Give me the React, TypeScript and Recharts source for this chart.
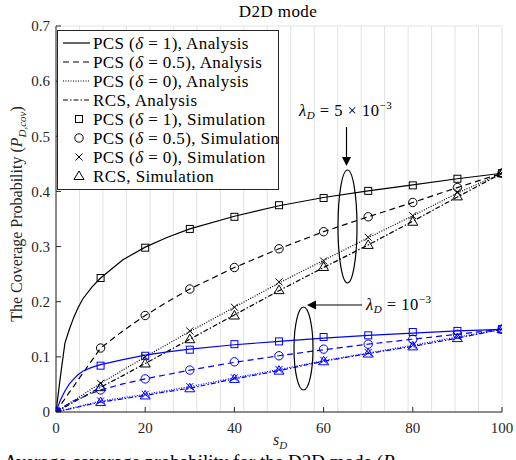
import React from "react";
import { ComposedChart, Line, Scatter, XAxis, YAxis, CartesianGrid } from "recharts";

// analysis curves (fine x grid)
const xAna = [0, 1, 2, 3, 4, 5, 6, 8, 10, 15, 20, 25, 30, 40, 50, 60, 70, 80, 90, 100];
// lambda_D = 5e-3 (black)
const anaPcs1 = [0, 0.065, 0.125, 0.150, 0.172, 0.190, 0.205, 0.226, 0.243, 0.276, 0.299, 0.317, 0.332, 0.355, 0.374, 0.389, 0.401, 0.412, 0.423, 0.433];
const anaPcs05 = [0, 0.012, 0.024, 0.036, 0.047, 0.059, 0.070, 0.093, 0.116, 0.147, 0.175, 0.200, 0.223, 0.262, 0.296, 0.327, 0.354, 0.380, 0.407, 0.433];
const anaPcs0 = [0, 0.005, 0.010, 0.016, 0.021, 0.026, 0.031, 0.042, 0.052, 0.076, 0.100, 0.123, 0.146, 0.190, 0.234, 0.275, 0.316, 0.356, 0.397, 0.433];
const anaRcs = [0, 0.0045, 0.009, 0.0135, 0.018, 0.0225, 0.027, 0.036, 0.045, 0.066, 0.088, 0.110, 0.132, 0.176, 0.220, 0.262, 0.303, 0.346, 0.390, 0.433];
// lambda_D = 1e-3 (blue)
const anaPcs1B = [0, 0.022, 0.038, 0.051, 0.060, 0.068, 0.074, 0.081, 0.086, 0.095, 0.103, 0.109, 0.114, 0.122, 0.128, 0.134, 0.139, 0.143, 0.147, 0.150];
const anaPcs05B = [0, 0.006, 0.011, 0.016, 0.020, 0.024, 0.027, 0.034, 0.040, 0.051, 0.060, 0.068, 0.076, 0.090, 0.102, 0.113, 0.123, 0.132, 0.141, 0.150];
const anaPcs0B = [0, 0.002, 0.004, 0.006, 0.008, 0.010, 0.012, 0.016, 0.020, 0.026, 0.032, 0.039, 0.046, 0.062, 0.077, 0.093, 0.107, 0.121, 0.136, 0.150];
const anaRcsB = [0, 0.0018, 0.0036, 0.0054, 0.0072, 0.009, 0.011, 0.0145, 0.018, 0.024, 0.030, 0.037, 0.043, 0.060, 0.075, 0.092, 0.106, 0.119, 0.134, 0.150];

// simulation points
const xSim = [0, 10, 20, 30, 40, 50, 60, 70, 80, 90, 100];
const simPcs1 = [0, 0.243, 0.298, 0.332, 0.354, 0.375, 0.388, 0.401, 0.411, 0.423, 0.433];
const simPcs05 = [0, 0.116, 0.175, 0.223, 0.262, 0.296, 0.327, 0.354, 0.380, 0.407, 0.433];
const simPcs0 = [0, 0.052, 0.100, 0.147, 0.190, 0.236, 0.274, 0.317, 0.356, 0.399, 0.433];
const simRcs = [0, 0.045, 0.088, 0.132, 0.175, 0.221, 0.263, 0.303, 0.345, 0.391, 0.433];
const simPcs1B = [0, 0.084, 0.102, 0.113, 0.123, 0.128, 0.136, 0.139, 0.145, 0.147, 0.150];
const simPcs05B = [0, 0.040, 0.060, 0.076, 0.091, 0.102, 0.114, 0.123, 0.132, 0.141, 0.150];
const simPcs0B = [0, 0.020, 0.032, 0.046, 0.062, 0.077, 0.094, 0.108, 0.121, 0.137, 0.150];
const simRcsB = [0, 0.018, 0.030, 0.043, 0.060, 0.075, 0.092, 0.106, 0.119, 0.134, 0.150];

const xTicks = [0, 20, 40, 60, 80, 100];
const yTicks = [0, 0.1, 0.2, 0.3, 0.4, 0.5, 0.6, 0.7];

const legendItems = [
  { kind: "line", dash: "", label: ["PCS (", "δ", " = 1), Analysis"] },
  { kind: "line", dash: "6 4", label: ["PCS (", "δ", " = 0.5), Analysis"] },
  { kind: "line", dash: "1 1.5", label: ["PCS (", "δ", " = 0), Analysis"] },
  { kind: "line", dash: "5 2 1.5 2", label: ["RCS, Analysis"] },
  { kind: "square", label: ["PCS (", "δ", " = 1), Simulation"] },
  { kind: "circle", label: ["PCS (", "δ", " = 0.5), Simulation"] },
  { kind: "x", label: ["PCS (", "δ", " = 0), Simulation"] },
  { kind: "tri", label: ["RCS, Simulation"] },
];

const anaTable = xAna.map((x, i) => ({
  x,
  p1: anaPcs1[i], p05: anaPcs05[i], p0: anaPcs0[i], rcs: anaRcs[i],
  p1b: anaPcs1B[i], p05b: anaPcs05B[i], p0b: anaPcs0B[i], rcsb: anaRcsB[i],
}));
const toPts = (ys: number[]) => xSim.map((x, i) => ({ x, y: ys[i] }));

const FONT = "'Liberation Serif', 'DejaVu Serif', serif";
const AX = "#262626";
const BLACK = "#000000";
const BLUE = "#0000ff";

function marker(kind: string, cx: number, cy: number, color: string) {
  const sw = 1;
  if (kind === "square") return <rect x={cx - 3.5} y={cy - 3.5} width={7} height={7} fill="none" stroke={color} strokeWidth={sw} />;
  if (kind === "circle") return <circle cx={cx} cy={cy} r={4.2} fill="none" stroke={color} strokeWidth={sw} />;
  if (kind === "x")
    return (
      <g stroke={color} strokeWidth={sw}>
        <line x1={cx - 3.5} y1={cy - 3.5} x2={cx + 3.5} y2={cy + 3.5} />
        <line x1={cx - 3.5} y1={cy + 3.5} x2={cx + 3.5} y2={cy - 3.5} />
      </g>
    );
  return <polygon points={`${cx},${cy - 5} ${cx - 5},${cy + 3.5} ${cx + 5},${cy + 3.5}`} fill="none" stroke={color} strokeWidth={sw} />;
}

const shapeOf = (kind: string, color: string) => (p: any) => {
  if (p == null || p.cx == null || p.cy == null) return <g />;
  return marker(kind, p.cx, p.cy, color);
};

const tickFont = { fontFamily: FONT, fontSize: 15, fill: AX };

export default function App() {
  return (
    <div style={{ position: "relative", width: 516, height: 460, background: "#fff", overflow: "hidden" }}>
      <style>{"body{margin:0}"}</style>
      <ComposedChart width={516} height={460} data={anaTable} margin={{ top: 26, right: 14, bottom: 18, left: 0 }}>
        <CartesianGrid stroke="#e3e3e3" strokeWidth={1} />
        <XAxis
          xAxisId="b" dataKey="x" type="number" domain={[0, 100]} ticks={xTicks} height={30}
          axisLine={{ stroke: AX }} tickLine={{ stroke: AX }} tickSize={-5} tickMargin={15}
          tick={tickFont} interval={0} allowDataOverflow
        />
        <XAxis
          xAxisId="t" orientation="top" dataKey="x" type="number" domain={[0, 100]} ticks={xTicks} height={0}
          axisLine={{ stroke: AX }} tickLine={{ stroke: AX }} tickSize={-5} tick={false} allowDataOverflow
        />
        <YAxis
          yAxisId="l" type="number" domain={[0, 0.7]} ticks={yTicks} width={56}
          axisLine={{ stroke: AX }} tickLine={{ stroke: AX }} tickSize={-5} tickMargin={11}
          tick={tickFont} interval={0} allowDataOverflow
          tickFormatter={(v: number) => (v === 0 ? "0" : v.toFixed(1))}
        />
        <YAxis
          yAxisId="r" orientation="right" type="number" domain={[0, 0.7]} ticks={yTicks} width={0}
          axisLine={{ stroke: AX }} tickLine={{ stroke: AX }} tickSize={-5} tick={false} allowDataOverflow
        />
        {/* black analysis */}
        <Line xAxisId="b" yAxisId="l" dataKey="p1" stroke={BLACK} strokeWidth={1.2} dot={false} isAnimationActive={false} type="linear" />
        <Line xAxisId="b" yAxisId="l" dataKey="p05" stroke={BLACK} strokeWidth={1.2} strokeDasharray="6 4" dot={false} isAnimationActive={false} type="linear" />
        <Line xAxisId="b" yAxisId="l" dataKey="p0" stroke={BLACK} strokeWidth={1.2} strokeDasharray="1 1.5" dot={false} isAnimationActive={false} type="linear" />
        <Line xAxisId="b" yAxisId="l" dataKey="rcs" stroke={BLACK} strokeWidth={1.2} strokeDasharray="5 2 1.5 2" dot={false} isAnimationActive={false} type="linear" />
        {/* blue analysis */}
        <Line xAxisId="b" yAxisId="l" dataKey="p1b" stroke={BLUE} strokeWidth={1.2} dot={false} isAnimationActive={false} type="linear" />
        <Line xAxisId="b" yAxisId="l" dataKey="p05b" stroke={BLUE} strokeWidth={1.2} strokeDasharray="6 4" dot={false} isAnimationActive={false} type="linear" />
        <Line xAxisId="b" yAxisId="l" dataKey="p0b" stroke={BLUE} strokeWidth={1.2} strokeDasharray="1 1.5" dot={false} isAnimationActive={false} type="linear" />
        <Line xAxisId="b" yAxisId="l" dataKey="rcsb" stroke={BLUE} strokeWidth={1.2} strokeDasharray="5 2 1.5 2" dot={false} isAnimationActive={false} type="linear" />
        {/* simulations */}
        <Scatter xAxisId="b" yAxisId="l" data={toPts(simPcs1)} dataKey="y" shape={shapeOf("square", BLACK)} isAnimationActive={false} />
        <Scatter xAxisId="b" yAxisId="l" data={toPts(simPcs05)} dataKey="y" shape={shapeOf("circle", BLACK)} isAnimationActive={false} />
        <Scatter xAxisId="b" yAxisId="l" data={toPts(simPcs0)} dataKey="y" shape={shapeOf("x", BLACK)} isAnimationActive={false} />
        <Scatter xAxisId="b" yAxisId="l" data={toPts(simRcs)} dataKey="y" shape={shapeOf("tri", BLACK)} isAnimationActive={false} />
        <Scatter xAxisId="b" yAxisId="l" data={toPts(simPcs1B)} dataKey="y" shape={shapeOf("square", BLUE)} isAnimationActive={false} />
        <Scatter xAxisId="b" yAxisId="l" data={toPts(simPcs05B)} dataKey="y" shape={shapeOf("circle", BLUE)} isAnimationActive={false} />
        <Scatter xAxisId="b" yAxisId="l" data={toPts(simPcs0B)} dataKey="y" shape={shapeOf("x", BLUE)} isAnimationActive={false} />
        <Scatter xAxisId="b" yAxisId="l" data={toPts(simRcsB)} dataKey="y" shape={shapeOf("tri", BLUE)} isAnimationActive={false} />
      </ComposedChart>

      <svg width={516} height={460} style={{ position: "absolute", left: 0, top: 0, pointerEvents: "none" }} fontFamily={FONT}>
        {/* title */}
        <text x={278} y={17} fontSize={17} letterSpacing={0.4} textAnchor="middle" fill={BLACK}>D2D mode</text>

        {/* y label */}
        <text transform="translate(22,214) rotate(-90)" fontSize={16} textAnchor="middle" fill={AX}>
          The Coverage Probability (<tspan fontStyle="italic">P</tspan>
          <tspan fontStyle="italic" fontSize={11} dy={4}>D,cov</tspan>
          <tspan dy={-4}>)</tspan>
        </text>

        {/* x label */}
        <text x={273} y={445} fontSize={16} fill={AX}>
          <tspan fontStyle="italic">s</tspan>
          <tspan fontStyle="italic" fontSize={11} dy={4}>D</tspan>
        </text>

        {/* legend */}
        <rect x={57.5} y={30.5} width={221} height={159} fill="#fff" stroke={AX} strokeWidth={1} />
        {legendItems.map((it, i) => {
          const cy = 43 + i * 19;
          return (
            <g key={i}>
              {it.kind === "line" ? (
                <line x1={63} y1={cy} x2={90} y2={cy} stroke={BLACK} strokeWidth={1.2} strokeDasharray={it.dash || undefined} />
              ) : (
                marker(it.kind, 79, cy, BLACK)
              )}
              <text x={93} y={cy + 5.5} fontSize={17} letterSpacing={0.4} fill={BLACK}>
                {it.label.map((s, j) => (
                  <tspan key={j} fontStyle={s === "δ" ? "italic" : undefined}>{s}</tspan>
                ))}
              </text>
            </g>
          );
        })}

        {/* annotation lambda = 5e-3 */}
        <text x={299} y={116} fontSize={16.5} letterSpacing={0.5} fill={BLACK}>
          <tspan fontStyle="italic">λ</tspan>
          <tspan fontStyle="italic" fontSize={11} dy={3}>D</tspan>
          <tspan dy={-3}> = 5 × 10</tspan>
          <tspan fontSize={11} dy={-7}>−3</tspan>
        </text>
        <line x1={346.5} y1={127} x2={346.5} y2={160} stroke={BLACK} strokeWidth={1.2} />
        <polygon points="342,157 351,157 346.5,166" fill={BLACK} />
        <ellipse cx={347.5} cy={226.5} rx={9.5} ry={56.5} fill="none" stroke={BLACK} strokeWidth={1.2} />

        {/* annotation lambda = 1e-3 */}
        <text x={366} y={310} fontSize={16.5} letterSpacing={0.5} fill={BLACK}>
          <tspan fontStyle="italic">λ</tspan>
          <tspan fontStyle="italic" fontSize={11} dy={3}>D</tspan>
          <tspan dy={-3}> = 10</tspan>
          <tspan fontSize={11} dy={-7}>−3</tspan>
        </text>
        <line x1={362} y1={305} x2={312} y2={305} stroke={BLACK} strokeWidth={1.2} />
        <polygon points="307,305 316,300.5 316,309.5" fill={BLACK} />
        <ellipse cx={303.5} cy={348.5} rx={9.5} ry={41.5} fill="none" stroke={BLACK} strokeWidth={1.2} />

        {/* cut-off caption */}
        <text x={4} y={468} fontSize={19} fill={BLACK}>
          Average coverage probability for the D2D mode (<tspan fontStyle="italic">P</tspan>
        </text>
      </svg>
    </div>
  );
}
